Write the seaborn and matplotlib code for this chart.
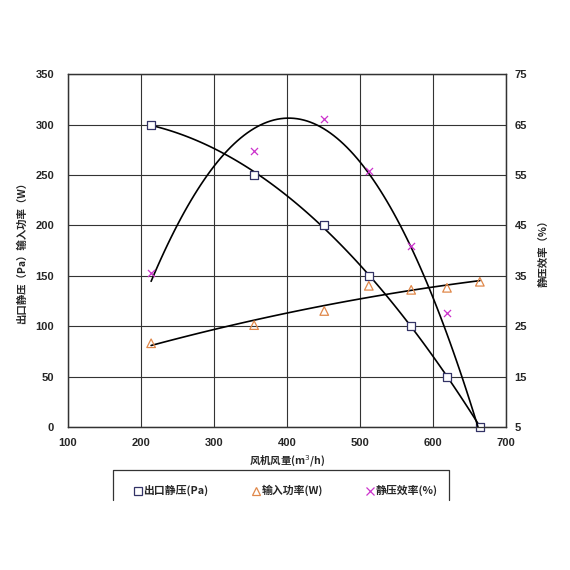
import matplotlib
matplotlib.use("Agg")
import matplotlib.pyplot as plt
from matplotlib.lines import Line2D
import seaborn as sns

# data
flow = [214, 355, 451, 512, 570, 619, 664]          # m3/h
pressure = [300, 250, 200, 150, 100, 50, 0]          # Pa
power = [83, 101, 115, 140, 136, 138, 144]           # W
eff_flow = [214, 355, 451, 512, 570, 619]
eff = [35.5, 59.7, 66.0, 55.7, 40.8, 27.6]           # %
# efficiency is zero at the last (zero pressure) point, below the axis floor
eff_fit_flow = eff_flow + [664]
eff_fit = eff + [0]

sns.set_style("white")
cjk = ["Noto Sans CJK SC", "DejaVu Sans"]
plt.rcParams["font.family"] = cjk

fig = plt.figure(figsize=(5.7, 5.7), dpi=100)
ax = fig.add_axes([0.119, 0.251, 0.769, 0.619])
ax2 = ax.twinx()

line_kws = dict(color="black", lw=1.2)
sns.regplot(x=flow, y=pressure, order=2, ci=None, scatter=False, line_kws=line_kws, ax=ax)
sns.regplot(x=flow, y=power, order=2, ci=None, scatter=False, line_kws=line_kws, ax=ax)
sns.regplot(x=eff_fit_flow, y=eff_fit, order=2, ci=None, scatter=False, line_kws=line_kws, ax=ax2)

sq_col = "#333366"
tri_col = "#E0884A"
x_col = "#CC33CC"
sns.scatterplot(x=flow, y=pressure, marker="s", s=32, facecolor="white",
                edgecolor=sq_col, linewidth=0.9, ax=ax, zorder=5, clip_on=False)
sns.scatterplot(x=flow, y=power, marker="^", s=38, facecolor="none",
                edgecolor=tri_col, linewidth=0.9, ax=ax, zorder=5)
sns.scatterplot(x=eff_flow, y=eff, marker="x", s=26, color=x_col,
                linewidth=0.9, ax=ax2, zorder=5)

ax.set_xlim(100, 700)
ax.set_ylim(0, 350)
ax2.set_ylim(5, 75)
ax.set_xticks(range(100, 701, 100))
ax.set_yticks(range(0, 351, 50))
ax2.set_yticks(range(5, 76, 10))
ax.grid(True, color="#333333", lw=0.8)
ax.set_axisbelow(True)

tick_font = dict(family="Liberation Sans", weight="bold", size=8)
for a in (ax, ax2):
    for lab in a.get_xticklabels() + a.get_yticklabels():
        lab.set_fontproperties(tick_font)
    for s in a.spines.values():
        s.set_color("#333333")
        s.set_linewidth(0.9)
ax.tick_params(axis="x", direction="in", length=3, pad=8, color="#333333")
ax.tick_params(axis="y", direction="in", length=0, pad=10)
ax2.tick_params(axis="y", direction="in", length=0, pad=6)

lab_font = dict(family=cjk, weight="bold", size=7.5)
ax.set_xlabel("风机风量(m$^3$/h)", fontdict=lab_font, labelpad=4)
ax.set_ylabel("出口静压（Pa）输入功率（W）", fontdict=lab_font, labelpad=6)
ax2.set_ylabel("静压效率（%）", fontdict=lab_font, labelpad=8)

handles = [
    Line2D([], [], marker="s", ls="none", mfc="white", mec=sq_col, ms=5.5, mew=0.9),
    Line2D([], [], marker="^", ls="none", mfc="none", mec=tri_col, ms=6, mew=0.9),
    Line2D([], [], marker="x", ls="none", color=x_col, ms=5.5, mew=0.9),
]
labels = ["出口静压(Pa)", "输入功率(W)", "静压效率(%)"]
fig.legend(handles, labels, loc="center left", bbox_to_anchor=(0.215, 0.139),
           ncol=3, frameon=False, handletextpad=0.0, columnspacing=3.9,
           handlelength=1.0, prop=dict(family=cjk, weight="bold", size=7.8))
fig.add_artist(Line2D([0.198, 0.198, 0.788, 0.788], [0.123, 0.175, 0.175, 0.123],
                      transform=fig.transFigure, color="#333333", lw=0.9))

fig.savefig("out.png", dpi=100)
